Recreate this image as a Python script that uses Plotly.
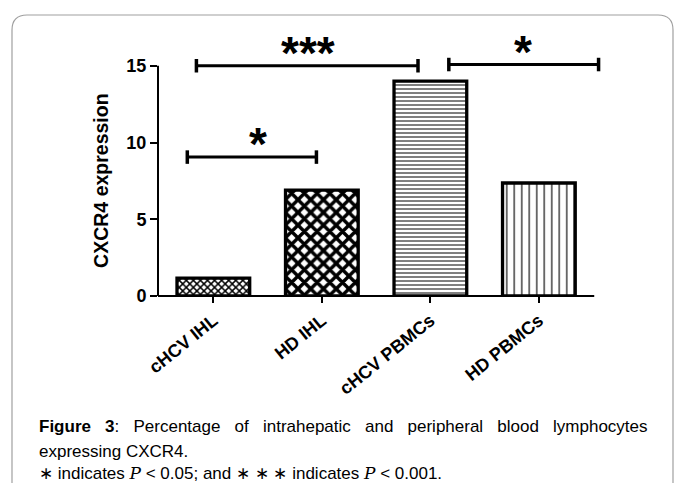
import plotly.graph_objects as go

# ---------------- data ----------------
categories = ["cHCV IHL", "HD IHL", "cHCV PBMCs", "HD PBMCs"]
cxcr4 = [1.17, 6.9, 14.0, 7.36]
y_ticks = [0, 5, 10, 15]
# significance brackets
br_x0 = [-0.24, -0.156, 2.17]
br_x1 = [0.95, 1.886, 3.55]
br_y = [9.05, 15.0, 15.08]
br_label = ["*", "***", "*"]
br_label_x = [0.41, 0.87, 2.85]

pat_shape = ["x", "x", "-", "|"]
pat_size = [5, 9, 4, 7.5]
pat_solid = [0.5, 0.62, 0.25, 0.15]

# ---------------- layout geometry ----------------
W, H = 676, 483
ML, MR, MT, MB = 158, 72, 47, 187
PW = W - ML - MR
PH = H - MT - MB
YMAX = PH / 15.35
XR = [-0.51, 3.6]

def px_x(px):
    return (px - ML) / PW

def px_y(py):
    return (H - MB - py) / PH

fig = go.Figure()
fig.add_trace(go.Bar(
    x=list(range(len(categories))), y=cxcr4, width=0.67,
    marker=dict(
        color="white",
        line=dict(color="black", width=3.3),
        pattern=dict(shape=pat_shape, size=pat_size, solidity=pat_solid,
                     fgcolor="black", bgcolor="white", fillmode="replace"),
    ),
    showlegend=False, hoverinfo="skip",
))

shapes = []
# frame box (rounded)
bx0, bx1, by0, by1 = px_x(12), px_x(673), px_y(15), px_y(520)
rx, ry = 15 / PW, 15 / PH
path = (f"M{bx0},{by1} L{bx0},{by0 - ry} Q{bx0},{by0} {bx0 + rx},{by0} "
        f"L{bx1 - rx},{by0} Q{bx1},{by0} {bx1},{by0 - ry} L{bx1},{by1}")
shapes.append(dict(type="path", xref="paper", yref="paper", path=path,
                   line=dict(color="#a0a0a0", width=1.2), layer="below"))
# axis lines
shapes.append(dict(type="line", xref="x", yref="y domain", x0=XR[0], x1=3.51, y0=0, y1=0,
                   line=dict(color="black", width=2)))
shapes.append(dict(type="line", xref="x domain", yref="y", x0=0, x1=0, y0=0, y1=15,
                   line=dict(color="black", width=2)))
# brackets
for a, b, h in zip(br_x0, br_x1, br_y):
    shapes.append(dict(type="line", xref="x", yref="y", x0=a, x1=b, y0=h, y1=h,
                       line=dict(color="black", width=3)))
    for e in (a, b):
        shapes.append(dict(type="line", xref="x", yref="y", x0=e, x1=e, y0=h - 0.44, y1=h + 0.44,
                           line=dict(color="black", width=3.5)))

annotations = []
for lx, h, t in zip(br_label_x, br_y, br_label):
    annotations.append(dict(x=lx, y=h, xref="x", yref="y", text=t, showarrow=False,
                            yanchor="bottom", yshift=-15,
                            font=dict(family="Liberation Sans", size=46, color="black", weight="bold")))
# y title
annotations.append(dict(x=0, y=7.5, xref="paper", yref="y", xshift=-57, text="CXCR4 expression",
                        textangle=-90, showarrow=False, xanchor="center", yanchor="middle",
                        font=dict(family="Liberation Sans", size=19.5, color="black", weight="bold")))

cap_font = dict(family="Liberation Sans", size=17, color="black")
g = "\u00a0\u00a0\u00a0"
line1 = ("<b>Figure" + g + "3</b>:" + g + g.join(
    ["Percentage", "of", "intrahepatic", "and", "peripheral", "blood", "lymphocytes"]))
line2 = "expressing CXCR4."
pi = "<span style='font-family:DejaVu Serif'><i>P</i></span>"
line3 = "\u2217 indicates " + pi + " &lt; 0.05; and \u2217 \u2217 \u2217 indicates " + pi + " &lt; 0.001."
for txt, yy in zip([line1, line2, line3], [427, 451, 473]):
    annotations.append(dict(x=px_x(37), y=px_y(yy), xref="paper", yref="paper", text=txt,
                            showarrow=False, xanchor="left", yanchor="middle", align="left",
                            font=cap_font))

fig.update_layout(
    width=W, height=H, margin=dict(l=ML, r=MR, t=MT, b=MB, autoexpand=False),
    paper_bgcolor="white", plot_bgcolor="white",
    shapes=shapes, annotations=annotations,
    xaxis=dict(range=XR, tickvals=list(range(len(categories))), ticktext=categories,
               tickangle=-39, ticks="outside", ticklen=6, tickwidth=2, tickcolor="black",
               showline=False, showgrid=False, zeroline=False,
               tickfont=dict(family="Liberation Sans", size=18, color="black", weight="bold")),
    yaxis=dict(range=[0, YMAX], tickvals=y_ticks, ticks="outside", ticklen=7, tickwidth=2,
               tickcolor="black", showline=False, showgrid=False, zeroline=False,
               tickfont=dict(family="Liberation Sans", size=18, color="black", weight="bold")),
    bargap=0.3,
)

fig.write_html("out.html", config={"displayModeBar": False},
               post_script="document.body.style.margin='0';")
